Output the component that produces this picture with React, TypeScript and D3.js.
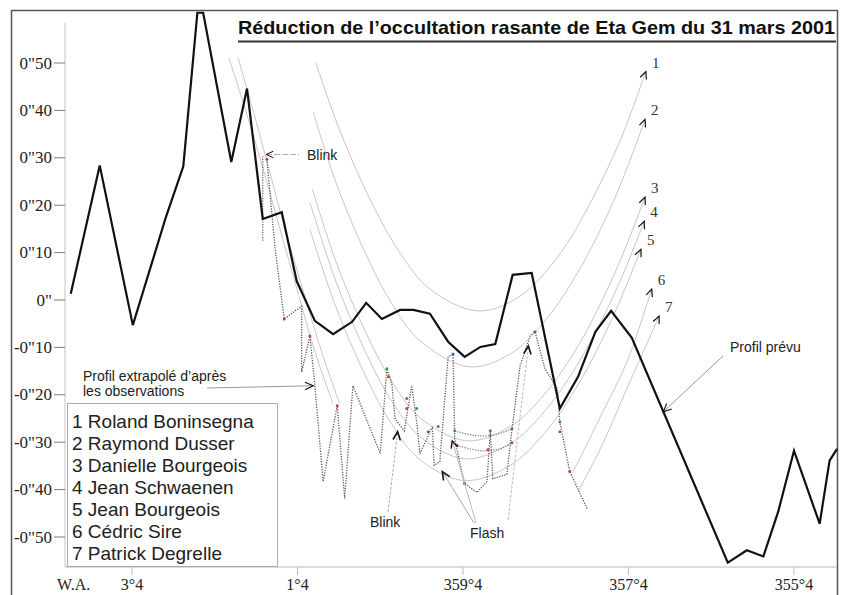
import React from "react";
import * as d3 from "d3";

// x = Watts angle in degrees (359°4 written as -0.6), y = offset in arcsec
const xTicks = [3.4, 1.4, -0.6, -2.6, -4.6];
const xTickLabels = ["3°4", "1°4", "359°4", "357°4", "355°4"];
const yTicks = [50, 40, 30, 20, 10, 0, -10, -20, -30, -40, -50];
const yTickLabels = ['0"50', '0"40', '0"30', '0"20', '0"10', '0"', '-0"10', '-0"20', '-0"30', '-0"40', '-0"50'];

const observers = [
  "1 Roland Boninsegna",
  "2 Raymond Dusser",
  "3 Danielle Bourgeois",
  "4 Jean Schwaenen",
  "5 Jean Bourgeois",
  "6 Cédric Sire",
  "7 Patrick Degrelle",
];

// predicted limb profile (thick black line)
const profilPrevu = [
  [4.14, 1.3], [3.79, 28.4], [3.39, -5.3], [2.99, 17.5], [2.78, 28.2], [2.61, 60.6], [2.54, 60.6],
  [2.2, 29.1], [2.01, 44.6], [1.82, 17.1], [1.59, 18.5], [1.41, 4.0], [1.19, -4.4], [0.97, -7.2],
  [0.74, -4.6], [0.57, -0.6], [0.38, -4.0], [0.16, -2.1], [0.0, -2.1], [-0.2, -2.9], [-0.42, -8.8],
  [-0.62, -12.0], [-0.81, -9.9], [-0.99, -9.3], [-1.2, 5.3], [-1.43, 5.7], [-1.77, -22.9],
  [-1.99, -16.2], [-2.2, -6.7], [-2.39, -2.3], [-2.64, -8.0], [-3.8, -55.4], [-4.03, -52.8],
  [-4.23, -54.1], [-4.41, -44.6], [-4.6, -31.8], [-4.91, -47.2], [-5.03, -33.9], [-5.12, -31.4],
];

// profile extrapolated from the observations (dotted)
const profilObserve = [
  [1.77, 29.7], [1.67, 10.7], [1.56, -4.0], [1.35, -1.3], [1.35, -15.2], [1.25, -7.6], [1.19, -18.1],
  [1.09, -38.3], [0.92, -22.3], [0.83, -41.9], [0.73, -18.1], [0.4, -32.4], [0.32, -14.5],
  [0.26, -17.7], [0.22, -25.1], [0.11, -27.6], [0.02, -18.1], [-0.04, -25.7], [-0.08, -32.4],
  [-0.23, -26.7], [-0.25, -34.9], [-0.32, -34.1], [-0.42, -12.0], [-0.48, -11.4], [-0.5, -29.3],
  [-0.59, -36.6], [-0.62, -38.7], [-0.77, -40.6], [-0.89, -38.3], [-0.93, -27.6], [-0.96, -37.7],
  [-1.13, -36.8], [-1.19, -27.6], [-1.29, -13.9], [-1.41, -7.6], [-1.47, -6.7], [-1.59, -14.5],
  [-1.74, -18.7], [-1.77, -25.7], [-1.89, -36.2], [-2.1, -44.0],
];
const blinkSegment = [[1.82, 30.3], [1.82, 12.2]];
const chordGreen = [[-0.5, -27.6], [-0.75, -28.6], [-0.99, -28.4], [-1.19, -27.2]];
const chordRed = [[-0.53, -30.7], [-0.81, -31.8], [-1.05, -31.4], [-1.19, -30.1]];

// observer tracks (thin grey curves)
const track1 = [[1.18, 50.1], [0.89, 35.8], [0.52, 21.1], [0.16, 9.9], [-0.2, 2.3], [-0.78, -2.3], [-1.29, 0.8], [-1.77, 9.7], [-2.13, 20.2], [-2.5, 33.7], [-2.81, 48.2]];
const track2 = [[1.21, 39.6], [0.95, 25.5], [0.64, 12.2], [0.28, -0.2], [-0.08, -8.6], [-0.68, -14.1], [-1.17, -11.4], [-1.59, -4.4], [-2.01, 6.5], [-2.44, 21.7], [-2.8, 38.1]];
const track3 = [[1.22, 23.4], [0.95, 8.8], [0.64, -4.4], [0.28, -16.6], [-0.08, -24.8], [-0.65, -29.7], [-1.17, -26.7], [-1.59, -19.8], [-2.01, -9.1], [-2.44, 5.9], [-2.8, 21.7]];
const track4 = [[1.25, 20.6], [0.95, 4.6], [0.64, -8.6], [0.28, -20.8], [-0.08, -28.8], [-0.62, -33.5], [-1.17, -30.3], [-1.59, -23.4], [-2.01, -12.8], [-2.44, 1.7], [-2.79, 16.6]];
const track5 = [[1.25, 14.9], [0.95, -0.8], [0.64, -13.7], [0.28, -25.7], [-0.08, -33.7], [-0.62, -38.1], [-1.17, -34.9], [-1.59, -28.0], [-2.01, -17.3], [-2.4, -4.0], [-2.75, 10.7]];
const track6a = [[2.23, 51.2], [2.03, 40.2], [1.83, 28.6], [1.61, 14.9], [1.39, 1.3], [1.18, -11.4], [0.97, -21.9]];
const track6b = [[-1.92, -36.6], [-2.29, -23.6], [-2.58, -13.1], [-2.88, 2.3]];
const track7a = [[2.12, 51.2], [1.94, 40.2], [1.76, 28.6], [1.55, 14.9], [1.32, 1.3], [1.1, -11.4], [0.89, -21.9]];
const track7b = [[-1.99, -40.4], [-2.26, -31.4], [-2.58, -18.7], [-2.97, -3.4]];

// timed events (small coloured dots)
const events = [
  [0.32, -14.5, "#3a9a3a"], [0.3, -16.2, "#c84040"], [0.08, -20.8, "#3a9a3a"], [0.08, -22.9, "#c84040"],
  [-0.04, -22.9, "#3a9a3a"], [-0.18, -27.8, "#c84040"], [-0.3, -26.7, "#3a9a3a"], [-0.5, -27.6, "#3a9a3a"],
  [-0.93, -27.6, "#3a9a3a"], [-1.19, -27.2, "#3a9a3a"], [-0.53, -30.7, "#c84040"], [-0.9, -31.6, "#c84040"],
  [-1.19, -30.1, "#c84040"], [-0.48, -11.4, "#4060b0"], [-1.47, -6.7, "#4060b0"], [-1.77, -25.7, "#3a9a3a"],
  [-1.77, -27.8, "#c84040"], [1.77, 29.7, "#c84040"], [1.56, -4.0, "#c84040"], [1.25, -7.6, "#c84040"],
  [0.92, -22.3, "#c84040"], [-0.62, -38.7, "#8a3a3a"], [-1.89, -36.2, "#c84040"],
];

const Chevron = ({ tip, from, size = 8, width = 1.2 }) => {
  const a = Math.atan2(tip[1] - from[1], tip[0] - from[0]);
  const s = 0.42;
  const p1 = [tip[0] - size * Math.cos(a - s), tip[1] - size * Math.sin(a - s)];
  const p2 = [tip[0] - size * Math.cos(a + s), tip[1] - size * Math.sin(a + s)];
  return <path d={`M${p1[0]},${p1[1]}L${tip[0]},${tip[1]}L${p2[0]},${p2[1]}`} fill="none" stroke="#111" strokeWidth={width} />;
};

export default function App() {
  const x = d3.scaleLinear().domain([3.4, -4.6]).range([132, 794]);
  const y = d3.scaleLinear().domain([50, -50]).range([63, 537]);
  const lin = d3.line<any>().x(d => x(d[0])).y(d => y(d[1]));
  const smooth = d3.line<any>().x(d => x(d[0])).y(d => y(d[1])).curve(d3.curveCatmullRom.alpha(0.5));

  const sans = "'Liberation Sans', Arial, sans-serif";
  const serif = "'Liberation Serif', 'Times New Roman', serif";
  const trackColor = "#cfc3c7";

  const fullTracks = [track1, track2, track3, track4, track5, track6b, track7b];
  const tipOf = (t) => {
    const a = t[t.length - 1], b = t[t.length - 2];
    return { tip: [x(a[0]), y(a[1])], from: [x(b[0]), y(b[1])] };
  };

  const pt = (d) => [x(d[0]), y(d[1])];

  // annotation anchors in data units
  const blinkTop = pt([1.78, 30.7]);
  const extrapTip = pt([1.21, -18.1]);
  const prevuTip = pt([-3.02, -23.6]);
  const blinkLow = pt([0.19, -27.8]);
  const flash1 = pt([-0.35, -36.2]);
  const flash2 = pt([-0.47, -29.7]);
  const flash3 = pt([-1.39, -9.7]);

  return (
    <svg width={848} height={595} style={{ position: "absolute", left: 0, top: 0, background: "#fff" }}>
      <rect x={11.5} y={10.5} width={826} height={620} fill="#fff" stroke="#555" strokeWidth={1.5} />

      {/* title */}
      <text x={238} y={34} fontFamily={sans} fontWeight="bold" fontSize={18.5} fill="#111" textLength={597} lengthAdjust="spacingAndGlyphs">
        Réduction de l’occultation rasante de Eta Gem du 31 mars 2001
      </text>
      <line x1={238} x2={836} y1={41.5} y2={41.5} stroke="#333" strokeWidth={2} />

      {/* axes */}
      <line x1={65} x2={65} y1={23} y2={567} stroke="#c4c4c4" strokeWidth={1} />
      <line x1={65} x2={837} y1={567} y2={567} stroke="#bbb" strokeWidth={1} />
      {yTicks.map((t, i) => (
        <g key={t}>
          <line x1={54} x2={65} y1={y(t)} y2={y(t)} stroke="#8a7a6a" strokeWidth={1} />
          <text x={52} y={y(t) + 5.5} textAnchor="end" fontFamily={serif} fontSize={17} fill="#222">{yTickLabels[i]}</text>
        </g>
      ))}
      {xTicks.map((t, i) => (
        <g key={t}>
          <line x1={x(t)} x2={x(t)} y1={567} y2={575} stroke="#bbb" strokeWidth={1} />
          <text x={x(t)} y={590} textAnchor="middle" fontFamily={serif} fontSize={16} fill="#222">{xTickLabels[i]}</text>
        </g>
      ))}
      <text x={57} y={590} fontFamily={serif} fontSize={16} fill="#222">W.A.</text>

      {/* observer tracks */}
      {[track1, track2, track3, track4, track5, track6a, track6b, track7a, track7b].map((t, i) => (
        <path key={i} d={smooth(t)} fill="none" stroke={trackColor} strokeWidth={1} />
      ))}
      {fullTracks.map((t, i) => {
        const { tip, from } = tipOf(t);
        return (
          <g key={i}>
            <Chevron tip={tip} from={from} size={8} />
            <text x={tip[0] + 6} y={tip[1] - 4} fontFamily={serif} fontSize={15} fill="#333">{i + 1}</text>
          </g>
        );
      })}

      {/* observed profile */}
      <path d={lin(blinkSegment)} fill="none" stroke="#666" strokeWidth={1.3} strokeDasharray="1.2 1.4" />
      <path d={lin(profilObserve)} fill="none" stroke="#555" strokeWidth={1.3} strokeDasharray="1.2 1.4" />
      <path d={smooth(chordGreen)} fill="none" stroke="#777" strokeWidth={1.2} strokeDasharray="1.2 1.4" />
      <path d={smooth(chordRed)} fill="none" stroke="#777" strokeWidth={1.2} strokeDasharray="1.2 1.4" />
      {events.map((e, i) => (
        <circle key={i} cx={x(e[0] as number)} cy={y(e[1] as number)} r={1.5} fill={e[2] as string} />
      ))}

      {/* predicted profile */}
      <path d={lin(profilPrevu)} fill="none" stroke="#111" strokeWidth={2.2} strokeLinejoin="miter" />

      {/* annotations */}
      <line x1={blinkTop[0]} y1={blinkTop[1]} x2={blinkTop[0] + 33} y2={blinkTop[1]} stroke="#aaa" strokeWidth={1} strokeDasharray="6 2" />
      <Chevron tip={blinkTop} from={[blinkTop[0] + 20, blinkTop[1]]} size={8} width={1} />
      <text x={307} y={160} fontFamily={sans} fontSize={14} fill="#222">Blink</text>

      <text x={83} y={381} fontFamily={sans} fontSize={14} fill="#222">Profil extrapolé d’après</text>
      <text x={83} y={396} fontFamily={sans} fontSize={14} fill="#222">les observations</text>
      <line x1={207} y1={388} x2={extrapTip[0]} y2={extrapTip[1]} stroke="#999" strokeWidth={1} />
      <Chevron tip={extrapTip} from={[207, 388]} size={9} width={1.1} />

      <text x={730} y={352} fontFamily={sans} fontSize={14} fill="#222">Profil prévu</text>
      <line x1={723} y1={356} x2={prevuTip[0]} y2={prevuTip[1]} stroke="#999" strokeWidth={1} />
      <Chevron tip={prevuTip} from={[723, 356]} size={9} width={1.1} />

      <text x={370} y={527} fontFamily={sans} fontSize={14} fill="#222">Blink</text>
      <line x1={388} y1={512} x2={blinkLow[0]} y2={blinkLow[1]} stroke="#aaa" strokeWidth={1} strokeDasharray="3 1.5" />
      <Chevron tip={blinkLow} from={[388, 512]} size={9} width={1.6} />

      <text x={470} y={538} fontFamily={sans} fontSize={14} fill="#222">Flash</text>
      <line x1={474} y1={523} x2={flash1[0]} y2={flash1[1]} stroke="#aaa" strokeWidth={1} />
      <line x1={476} y1={523} x2={flash2[0]} y2={flash2[1]} stroke="#bbb" strokeWidth={1} />
      <line x1={508} y1={520} x2={flash3[0]} y2={flash3[1]} stroke="#bbb" strokeWidth={1} strokeDasharray="3 1.5" />
      <Chevron tip={flash1} from={[474, 523]} size={9} width={1.6} />
      <Chevron tip={flash2} from={[476, 523]} size={8} width={1.4} />
      <Chevron tip={flash3} from={[508, 520]} size={9} width={1.6} />

      {/* observer legend */}
      <rect x={67.5} y={403.5} width={210} height={163} fill="#fff" stroke="#aaa" strokeWidth={1} />
      {observers.map((o, i) => (
        <text key={o} x={72} y={428 + i * 22} fontFamily={sans} fontSize={19} fill="#222">{o}</text>
      ))}
    </svg>
  );
}
